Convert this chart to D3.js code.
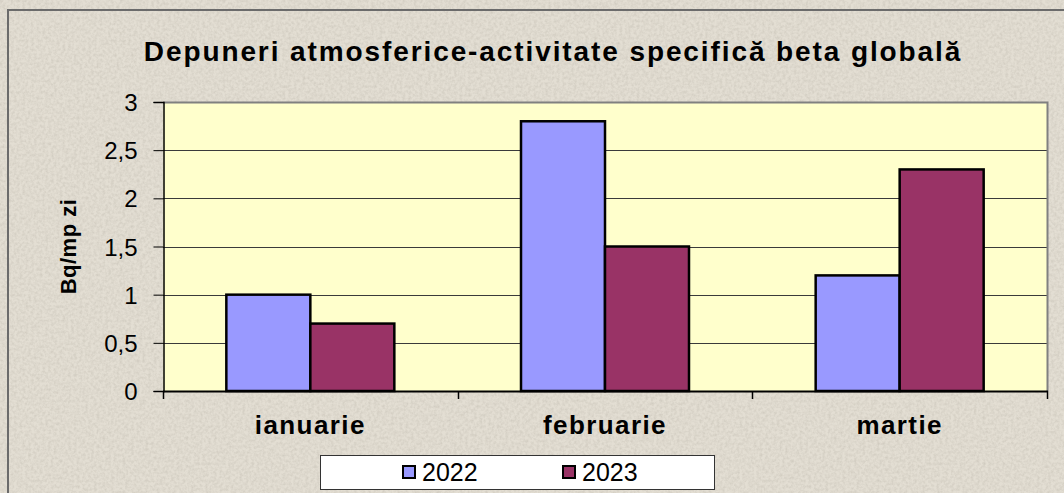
<!DOCTYPE html>
<html lang="ro">
<head>
<meta charset="UTF-8">
<title>Depuneri atmosferice</title>
<script src="https://d3js.org/d3.v7.min.js"></script>
<style>
    html, body {
        margin: 0;
        padding: 0;
        background: #e3ded3;
        overflow: hidden;
    }
    svg text {
        font-family: Arial, "Liberation Sans", sans-serif;
        fill: #000;
    }
</style>
</head>
<body>
<div id="vis"></div>
<script>

var months = ['ianuarie', 'februarie', 'martie'];
var seriesNames = ['2022', '2023'];
var values2022 = [1, 2.8, 1.2];
var values2023 = [0.7, 1.5, 2.3];
var yTicks = [0, 0.5, 1, 1.5, 2, 2.5, 3];
var colours = ['#9999ff', '#993366'];

var width = 1064,
    height = 493;

var plot = {left: 163, top: 102, right: 1047, bottom: 391};

var svg = d3.select('#vis')
    .append('svg')
        .attr('width', width)
        .attr('height', height);

// granite-like texture for the chart background
var defs = svg.append('defs');
var filt = defs.append('filter')
    .attr('id', 'granite')
    .attr('x', 0).attr('y', 0).attr('width', '100%').attr('height', '100%');
filt.append('feTurbulence')
    .attr('type', 'fractalNoise')
    .attr('baseFrequency', 0.35)
    .attr('numOctaves', 3)
    .attr('seed', 4)
    .attr('result', 'noise');
filt.append('feColorMatrix')
    .attr('in', 'noise')
    .attr('type', 'matrix')
    .attr('values', '0 0 0 0 0.45  0 0 0 0 0.42  0 0 0 0 0.36  0 0 0 -1.6 1.05')
    .attr('result', 'spots');
filt.append('feComposite')
    .attr('in', 'spots')
    .attr('in2', 'SourceGraphic')
    .attr('operator', 'in');

svg.append('rect')
    .attr('width', width).attr('height', height)
    .attr('fill', '#e3ded3');
svg.append('rect')
    .attr('width', width).attr('height', height)
    .attr('fill', '#e3ded3')
    .attr('filter', 'url(#granite)')
    .attr('opacity', 0.4);

// outer chart border (runs off the right and bottom)
svg.append('rect')
    .attr('x', 8).attr('y', 10)
    .attr('width', width).attr('height', height)
    .attr('fill', 'none')
    .attr('stroke', '#6b6b6b')
    .attr('stroke-width', 2);

var x0 = d3.scaleBand()
    .domain(months)
    .range([plot.left, plot.right])
    .paddingInner(0)
    .paddingOuter(0);

// two bars of ~84px in a ~295px category, gap split on both sides
var x1 = d3.scaleBand()
    .domain(seriesNames)
    .range([0, x0.bandwidth()])
    .paddingOuter(0.754)
    .paddingInner(0);

var y = d3.scaleLinear()
    .domain([0, 3])
    .range([plot.bottom, plot.top]);

// plot area
svg.append('rect')
    .attr('x', plot.left).attr('y', plot.top)
    .attr('width', plot.right - plot.left)
    .attr('height', plot.bottom - plot.top)
    .attr('fill', '#ffffcc');

// grid
svg.append('g')
    .selectAll('line')
    .data(yTicks.filter(function(d){ return d > 0 && d < 3; }))
    .enter()
    .append('line')
        .attr('x1', plot.left).attr('x2', plot.right)
        .attr('y1', function(d){ return Math.round(y(d)) + 0.5; })
        .attr('y2', function(d){ return Math.round(y(d)) + 0.5; })
        .attr('stroke', '#3a3a3a')
        .attr('stroke-width', 1);

// top and right border of plot area
svg.append('path')
    .attr('d', 'M' + plot.left + ',' + (plot.top + 0.5) + 'H' + (plot.right + 0.5) + 'V' + plot.bottom)
    .attr('fill', 'none')
    .attr('stroke', '#808080')
    .attr('stroke-width', 2);

// bars
var data = months.map(function(m, i){
    return {month: m, vals: [values2022[i], values2023[i]]};
});

var groups = svg.append('g')
    .selectAll('.group')
    .data(data)
    .enter()
    .append('g')
        .attr('class', 'group')
        .attr('transform', function(d){ return 'translate(' + x0(d.month) + ',0)'; });

groups.selectAll('rect')
    .data(function(d){
        return d.vals.map(function(v, j){ return {key: seriesNames[j], value: v, idx: j}; });
    })
    .enter()
    .append('rect')
        .attr('x', function(d){ return x1(d.key); })
        .attr('y', function(d){ return y(d.value); })
        .attr('width', x1.bandwidth())
        .attr('height', function(d){ return y(0) - y(d.value); })
        .attr('fill', function(d){ return colours[d.idx]; })
        .attr('stroke', '#000')
        .attr('stroke-width', 2.5);

// y axis
var yAxis = d3.axisLeft(y)
    .tickValues(yTicks)
    .tickSize(10)
    .tickPadding(16)
    .tickFormat(function(d){ return String(d).replace('.', ','); });

var gy = svg.append('g')
    .attr('transform', 'translate(' + (plot.left + 0.5) + ',0)')
    .call(yAxis);
gy.select('.domain').attr('stroke', '#000').attr('stroke-width', 1.5);
gy.selectAll('.tick line').attr('stroke', '#000');
gy.selectAll('.tick text')
    .style('font-size', '24px')
    .attr('dy', '0.36em');

// x axis: separators between categories
var gx = svg.append('g');
gx.append('line')
    .attr('x1', plot.left).attr('x2', plot.right + 1)
    .attr('y1', plot.bottom + 0.5).attr('y2', plot.bottom + 0.5)
    .attr('stroke', '#000').attr('stroke-width', 2);
gx.selectAll('.sep')
    .data(months.concat(['end']))
    .enter()
    .append('line')
        .attr('class', 'sep')
        .attr('x1', function(d, i){ return Math.round(plot.left + i * x0.step()) + 0.5; })
        .attr('x2', function(d, i){ return Math.round(plot.left + i * x0.step()) + 0.5; })
        .attr('y1', plot.bottom)
        .attr('y2', plot.bottom + 8)
        .attr('stroke', '#000')
        .attr('stroke-width', 1.5);
gx.selectAll('.lab')
    .data(months)
    .enter()
    .append('text')
        .attr('class', 'lab')
        .attr('x', function(d){ return x0(d) + x0.bandwidth() / 2; })
        .attr('y', 434)
        .attr('text-anchor', 'middle')
        .style('font-size', '26px')
        .style('font-weight', 'bold')
        .style('letter-spacing', '1.4px')
        .text(function(d){ return d; });

// y axis title
svg.append('text')
    .attr('transform', 'translate(76,' + ((plot.top + plot.bottom) / 2) + ')rotate(-90)')
    .attr('text-anchor', 'middle')
    .style('font-size', '22px')
    .style('font-weight', 'bold')
    .style('letter-spacing', '0.5px')
    .text('Bq/mp zi');

// chart title
svg.append('text')
    .attr('x', 553)
    .attr('y', 61)
    .attr('text-anchor', 'middle')
    .style('font-size', '28px')
    .style('font-weight', 'bold')
    .style('letter-spacing', '1.9px')
    .text('Depuneri atmosferice-activitate specifică beta globală');

// legend
var legend = svg.append('g');
legend.append('rect')
    .attr('x', 320.5).attr('y', 455.5)
    .attr('width', 394).attr('height', 34)
    .attr('fill', '#fff')
    .attr('stroke', '#333')
    .attr('stroke-width', 1);

var legendX = d3.scalePoint()
    .domain(seriesNames)
    .range([402, 562]);

var items = legend.selectAll('.item')
    .data(seriesNames)
    .enter()
    .append('g')
        .attr('class', 'item')
        .attr('transform', function(d){ return 'translate(' + legendX(d) + ',0)'; });
items.append('rect')
    .attr('x', 1).attr('y', 466)
    .attr('width', 12).attr('height', 12)
    .attr('fill', function(d, i){ return colours[i]; })
    .attr('stroke', '#000')
    .attr('stroke-width', 2);
items.append('text')
    .attr('x', 20)
    .attr('y', 481)
    .style('font-size', '25px')
    .text(function(d){ return d; });

</script>
</body>
</html>
